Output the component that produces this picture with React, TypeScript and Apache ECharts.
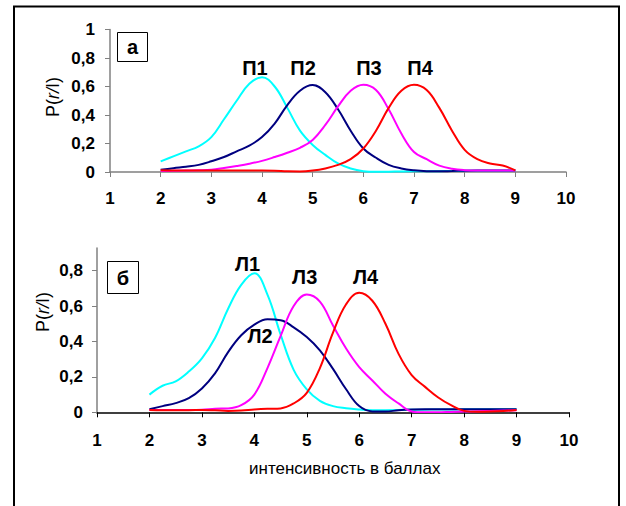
import React, { useEffect, useRef } from "react";
import * as echarts from "echarts";

// x positions (intensity, points) shared by all curves
const xValues = [2, 2.25, 2.5, 2.75, 3, 3.25, 3.5, 3.75, 4, 4.25, 4.5, 4.75, 5, 5.25, 5.5, 5.75, 6, 6.25, 6.5, 6.75, 7, 7.25, 7.5, 7.75, 8, 8.25, 8.5, 8.75, 9];

// Panel "а": П1..П4
const P1 = [0.075, 0.11, 0.145, 0.18, 0.245, 0.37, 0.5, 0.62, 0.665, 0.6, 0.45, 0.29, 0.19, 0.12, 0.06, 0.025, 0.006, 0.001, 0.002, 0.004, 0.005, 0.005, 0.006, 0.007, 0.008, 0.008, 0.009, 0.009, 0.01];
const P2 = [0.015, 0.027, 0.037, 0.05, 0.075, 0.105, 0.145, 0.185, 0.245, 0.34, 0.47, 0.57, 0.61, 0.56, 0.44, 0.29, 0.165, 0.1, 0.05, 0.025, 0.012, 0.006, 0.005, 0.007, 0.009, 0.01, 0.01, 0.01, 0.01];
const P3 = [0.007, 0.008, 0.01, 0.012, 0.016, 0.028, 0.042, 0.058, 0.078, 0.105, 0.135, 0.17, 0.225, 0.33, 0.46, 0.57, 0.612, 0.575, 0.44, 0.27, 0.14, 0.09, 0.045, 0.023, 0.013, 0.01, 0.01, 0.01, 0.01];
const P4 = [0.012, 0.011, 0.01, 0.01, 0.01, 0.01, 0.01, 0.01, 0.01, 0.009, 0.005, 0.004, 0.01, 0.025, 0.05, 0.09, 0.165, 0.29, 0.45, 0.57, 0.612, 0.575, 0.45, 0.29, 0.155, 0.09, 0.06, 0.045, 0.012];

// Panel "б": Л1..Л4
const L1 = [0.1, 0.15, 0.175, 0.23, 0.305, 0.42, 0.585, 0.72, 0.785, 0.665, 0.44, 0.24, 0.13, 0.065, 0.035, 0.023, 0.016, 0.012, 0.012, 0.013, 0.015, 0.015, 0.016, 0.016, 0.017, 0.017, 0.017, 0.017, 0.017];
const L2 = [0.017, 0.035, 0.052, 0.08, 0.135, 0.22, 0.34, 0.435, 0.495, 0.525, 0.52, 0.48, 0.425, 0.35, 0.245, 0.13, 0.035, 0.005, 0.004, 0.012, 0.016, 0.017, 0.017, 0.017, 0.017, 0.017, 0.017, 0.017, 0.017];
const L3 = [0.013, 0.013, 0.013, 0.013, 0.014, 0.02, 0.022, 0.04, 0.1, 0.25, 0.43, 0.6, 0.665, 0.625, 0.49, 0.36, 0.255, 0.18, 0.105, 0.05, 0.005, 0.0, 0.0, 0.002, 0.004, 0.006, 0.008, 0.01, 0.012];
const L4 = [0.013, 0.012, 0.012, 0.012, 0.013, 0.011, 0.008, 0.01, 0.016, 0.02, 0.022, 0.05, 0.11, 0.25, 0.45, 0.61, 0.675, 0.63, 0.5, 0.33, 0.21, 0.145, 0.085, 0.04, 0.008, 0.003, 0.004, 0.007, 0.013];

const topSeries = [P1, P2, P3, P4];
const bottomSeries = [L1, L2, L3, L4];
const topNames = ["П1", "П2", "П3", "П4"];
const bottomNames = ["Л1", "Л2", "Л3", "Л4"];
const lineColors = ["#00FFFF", "#000080", "#FF00FF", "#FF0000"];

// Curve labels, placed in data units
const topLabelX = [3.86, 4.81, 6.11, 7.12];
const topLabelY = [0.73, 0.73, 0.73, 0.73];
const bottomLabelX = [3.87, 4.11, 4.96, 6.12];
const bottomLabelY = [0.84, 0.43, 0.765, 0.765];

const yTicksTop = [0, 0.2, 0.4, 0.6, 0.8, 1];
const yTicksBottom = [0, 0.2, 0.4, 0.6, 0.8];
const panelLetters = ["а", "б"];
const xAxisTitle = "интенсивность в баллах";

const FONT = '"Liberation Sans", Arial, sans-serif';

const fmt = (v: number) => String(v).replace(".", ",");

export default function App() {
  const ref = useRef<HTMLDivElement>(null);
  useEffect(() => {
    if (!ref.current) return;
    const chart = echarts.init(ref.current, null, { renderer: "svg" });

    const grey = "#808080";
    const makeX = (gridIndex: number, lineColor: string, margin: number) => ({
      type: "value",
      gridIndex,
      min: 1,
      max: 10,
      interval: 1,
      axisLine: { show: true, onZero: false, lineStyle: { color: lineColor, width: 1.5 } },
      axisTick: { show: true, length: 5, lineStyle: { color: lineColor, width: 1 } },
      axisLabel: { margin, color: "#000", fontWeight: "bold", fontSize: 17, fontFamily: FONT },
      splitLine: { show: false },
    });
    const makeY = (gridIndex: number, max: number, ticks: number[], margin: number) => ({
      type: "value",
      gridIndex,
      min: 0,
      max,
      axisLine: { show: true, lineStyle: { color: grey, width: 1.5 } },
      axisTick: { show: true, length: 5, customValues: ticks, lineStyle: { color: grey, width: 1 } },
      axisLabel: {
        margin,
        customValues: ticks,
        formatter: (v: number) => fmt(v),
        color: "#000",
        fontWeight: "bold",
        fontSize: 17,
        fontFamily: FONT,
      },
      splitLine: { show: false },
    });

    const lineSeries = (arr: number[][], idx: number) =>
      arr.map((vals, i) => ({
        type: "line",
        xAxisIndex: idx,
        yAxisIndex: idx,
        data: xValues.map((x, k) => [x, vals[k]]),
        smooth: 0.4,
        symbol: "none",
        showSymbol: false,
        silent: true,
        lineStyle: { color: lineColors[i], width: 2 },
        itemStyle: { color: lineColors[i] },
      }));

    const labelSeries = (names: string[], xs: number[], ys: number[], idx: number) => ({
      type: "scatter",
      xAxisIndex: idx,
      yAxisIndex: idx,
      symbolSize: 1,
      silent: true,
      itemStyle: { color: "rgba(255,255,255,0)" },
      data: names.map((n, i) => ({ name: n, value: [xs[i], ys[i]] })),
      label: {
        show: true,
        position: "inside",
        formatter: "{b}",
        color: "#000000",
        opacity: 1,
        textBorderWidth: 0,
        fontWeight: "bold",
        fontSize: 20,
        fontFamily: FONT,
      },
      z: 10,
    });

    const yNameRich = {
      n: { fontSize: 18, fontFamily: FONT, fill: "#000" },
      i: { fontSize: 18, fontFamily: FONT, fontStyle: "italic", fill: "#000" },
    };

    chart.setOption({
      animation: false,
      backgroundColor: "#fff",
      grid: [
        { left: 110, top: 29.5, width: 456, height: 142.5 },
        { left: 97, top: 248, width: 472, height: 164.3 },
      ],
      xAxis: [makeX(0, grey, 18), makeX(1, "#000", 20)],
      yAxis: [makeY(0, 1, yTicksTop, 15), makeY(1, 0.928, yTicksBottom, 14)],
      series: [
        ...lineSeries(topSeries, 0),
        ...lineSeries(bottomSeries, 1),
        labelSeries(topNames, topLabelX, topLabelY, 0),
        labelSeries(bottomNames, bottomLabelX, bottomLabelY, 1),
      ],
      graphic: [
        {
          type: "rect",
          shape: { x: 14, y: 6.5, width: 605, height: 540 },
          style: { fill: "none", stroke: "#000", lineWidth: 2 },
          silent: true,
        },
        {
          type: "rect",
          shape: { x: 117.5, y: 32.5, width: 30, height: 29 },
          style: { fill: "#fff", stroke: "#000", lineWidth: 1 },
          z: 5,
        },
        {
          type: "text",
          x: 132.5,
          y: 47,
          z: 6,
          style: { text: panelLetters[0], align: "center", verticalAlign: "middle", font: `bold 20px ${FONT}`, fill: "#000" },
        },
        {
          type: "rect",
          shape: { x: 107.5, y: 261.5, width: 31, height: 32 },
          style: { fill: "#fff", stroke: "#000", lineWidth: 1 },
          z: 5,
        },
        {
          type: "text",
          x: 123,
          y: 277.5,
          z: 6,
          style: { text: panelLetters[1], align: "center", verticalAlign: "middle", font: `bold 20px ${FONT}`, fill: "#000" },
        },
        {
          type: "text",
          x: 53,
          y: 97,
          rotation: Math.PI / 2,
          style: { text: "{n|P(}{i|r/}{n|I)}", rich: yNameRich, align: "center", verticalAlign: "middle" },
        },
        {
          type: "text",
          x: 43,
          y: 312,
          rotation: Math.PI / 2,
          style: { text: "{n|P(}{i|r/}{n|I)}", rich: yNameRich, align: "center", verticalAlign: "middle" },
        },
        {
          type: "text",
          x: 249,
          y: 468,
          style: { text: xAxisTitle, align: "left", verticalAlign: "middle", font: `17px ${FONT}`, fill: "#000" },
        },
      ],
    });
    return () => chart.dispose();
  }, []);

  return (
    <div
      ref={ref}
      style={{ position: "fixed", left: 0, top: 0, width: 626, height: 506, background: "#fff" }}
    />
  );
}
